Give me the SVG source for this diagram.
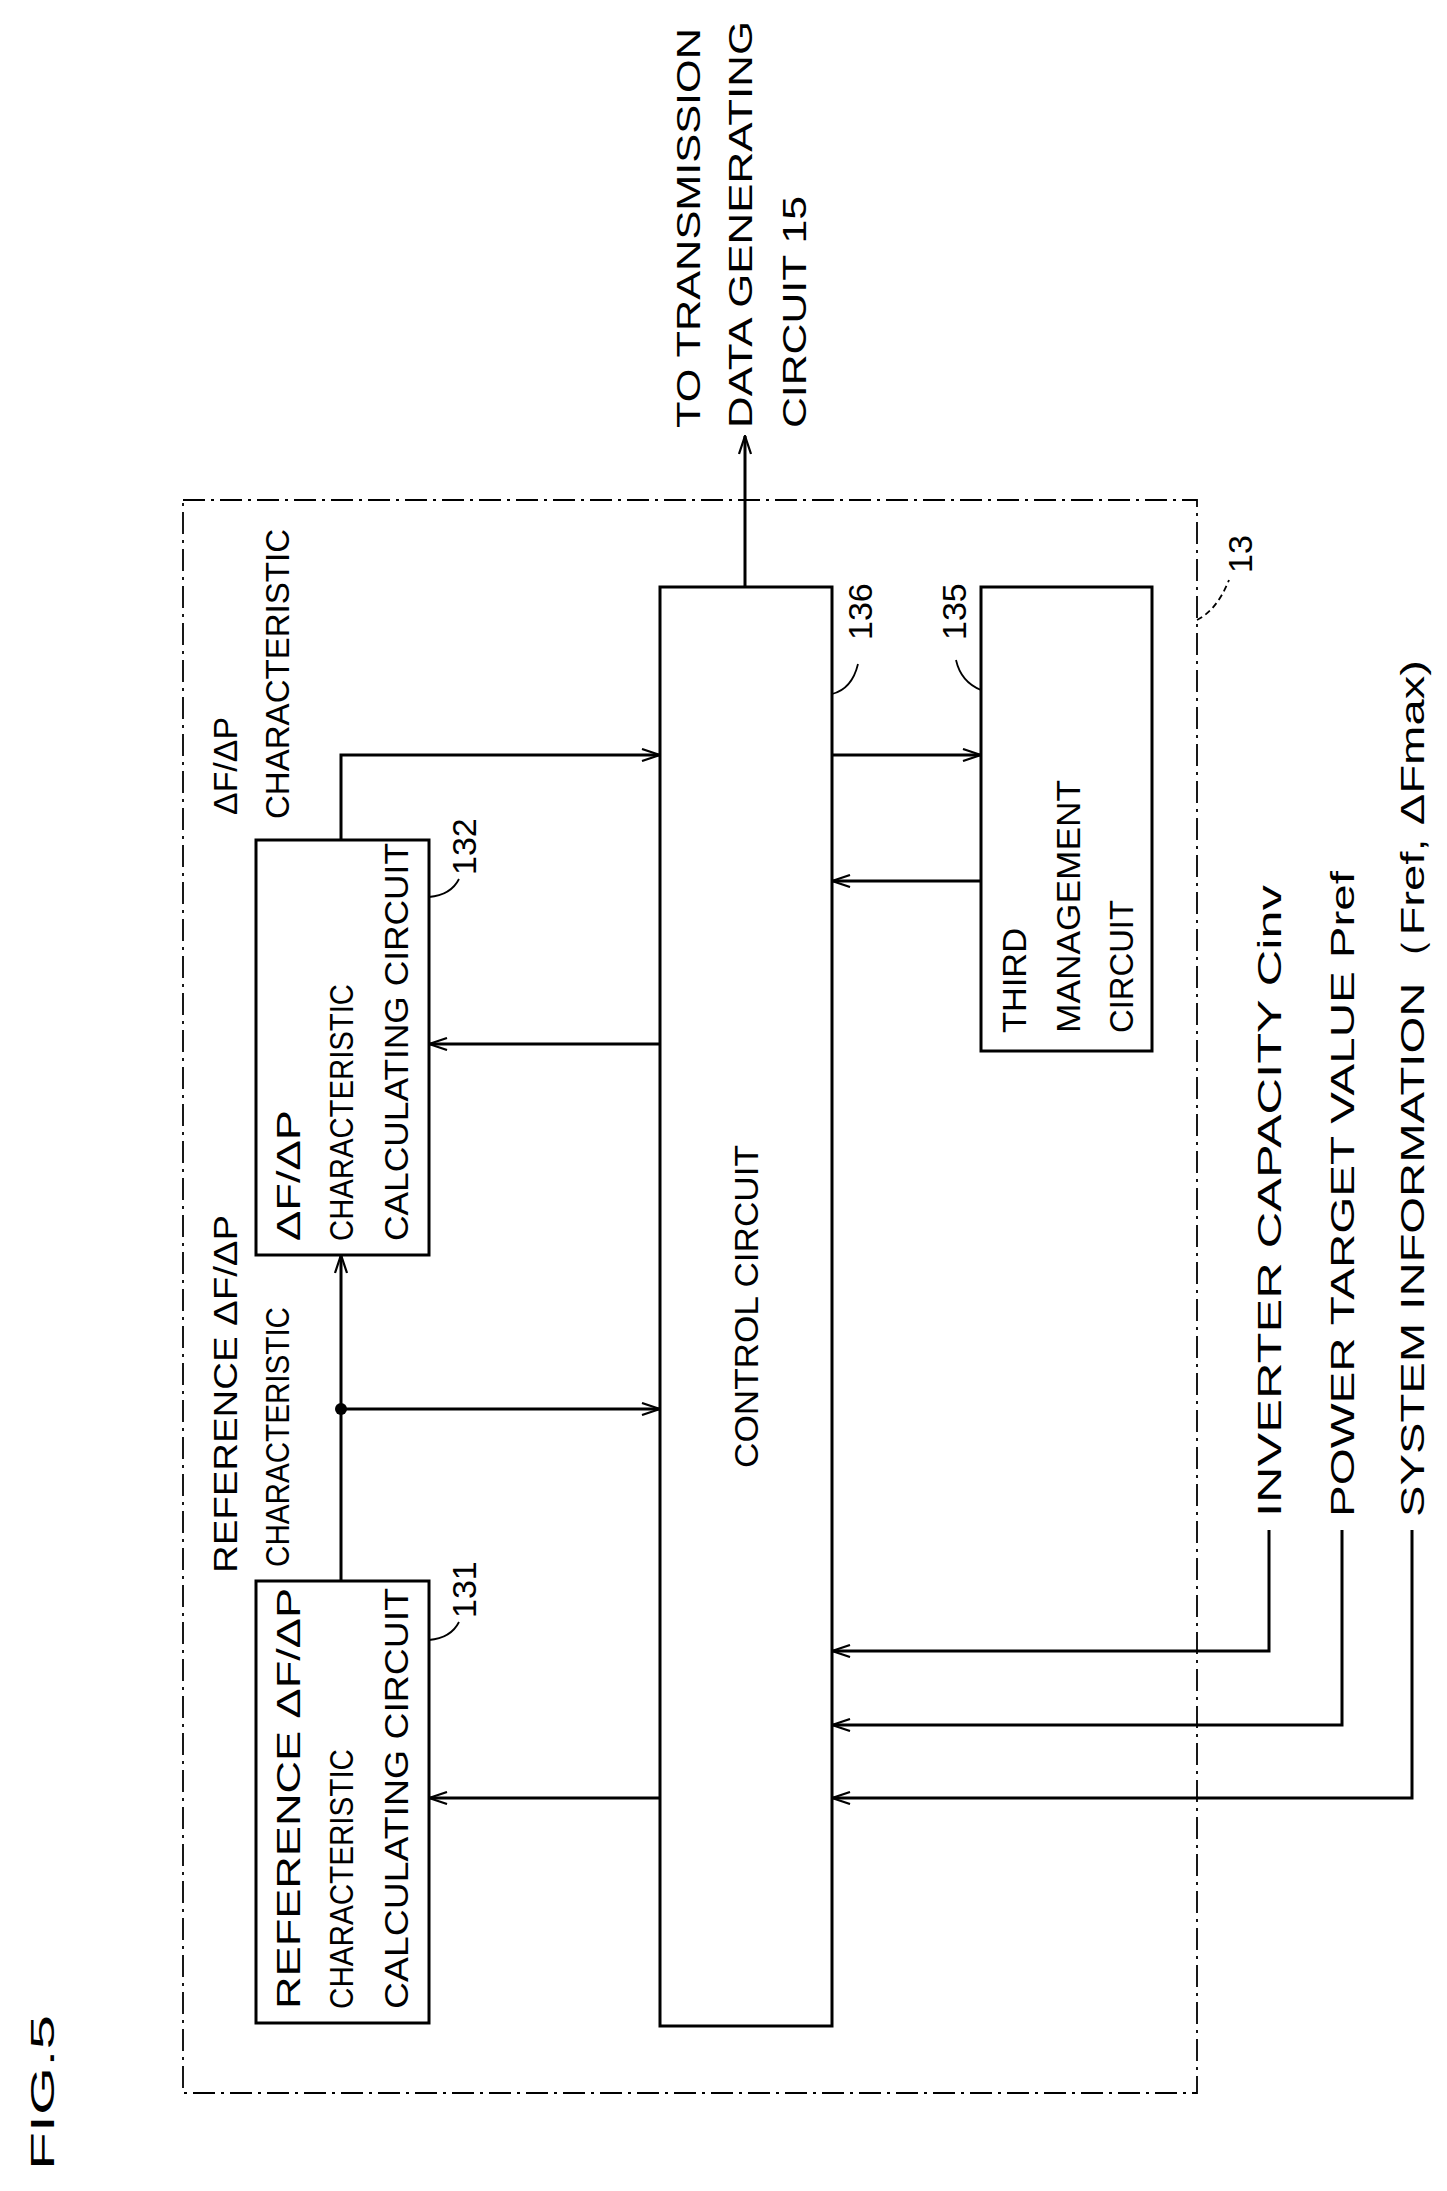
<svg xmlns="http://www.w3.org/2000/svg" width="1447" height="2191" viewBox="0 0 1447 2191">
<style>
text{font-family:"Liberation Sans",Arial,sans-serif;font-size:34px;fill:#000}
.b{fill:#fff;stroke:#000;stroke-width:3}
.l{fill:none;stroke:#000;stroke-width:3}
.ld{fill:none;stroke:#000;stroke-width:1.8}
</style>
<defs><marker id="a" markerWidth="20" markerHeight="14" refX="19" refY="7" orient="auto" markerUnits="userSpaceOnUse"><path d="M1,1 L19,7 L1,13" fill="none" stroke="#000" stroke-width="2.2"/></marker></defs>
<rect width="1447" height="2191" fill="#fff"/>
<text transform="translate(54,2170) rotate(-90)" font-size="44" textLength="155" lengthAdjust="spacingAndGlyphs">FIG.5</text>
<g id="n13"><rect x="183" y="500" width="1014" height="1593" fill="none" stroke="#000" stroke-width="1.8" stroke-dasharray="22,6,3,6"/>
<path d="M1197,620 q20,-10 32,-40" fill="none" stroke="#000" stroke-width="1.8" stroke-dasharray="6,4"/>
<text transform="translate(1252,573) rotate(-90)">13</text></g>
<g id="n131"><rect class="b" x="256" y="1581" width="173" height="442"/>
<text transform="translate(300,2009) rotate(-90)" textLength="421" lengthAdjust="spacingAndGlyphs">REFERENCE ΔF/ΔP</text>
<text transform="translate(353,2009) rotate(-90)" textLength="260" lengthAdjust="spacingAndGlyphs">CHARACTERISTIC</text>
<text transform="translate(408,2009) rotate(-90)" textLength="421" lengthAdjust="spacingAndGlyphs">CALCULATING CIRCUIT</text>
<path class="ld" d="M429,1640 q22,-2 30,-18"/>
<text transform="translate(476,1618) rotate(-90)">131</text></g>
<g id="n132"><rect class="b" x="256" y="840" width="173" height="415"/>
<text transform="translate(300,1241) rotate(-90)" textLength="131" lengthAdjust="spacingAndGlyphs">ΔF/ΔP</text>
<text transform="translate(353,1241) rotate(-90)" textLength="257" lengthAdjust="spacingAndGlyphs">CHARACTERISTIC</text>
<text transform="translate(408,1241) rotate(-90)" textLength="398" lengthAdjust="spacingAndGlyphs">CALCULATING CIRCUIT</text>
<path class="ld" d="M429,897 q22,-2 30,-18"/>
<text transform="translate(476,875) rotate(-90)">132</text></g>
<g id="n136"><rect class="b" x="660" y="587" width="172" height="1439"/>
<text transform="translate(758,1468) rotate(-90)" textLength="323" lengthAdjust="spacingAndGlyphs">CONTROL CIRCUIT</text>
<path class="ld" d="M832,694 q20,-5 26,-30"/>
<text transform="translate(872,640) rotate(-90)">136</text></g>
<g id="n135"><rect class="b" x="981" y="587" width="171" height="464"/>
<text transform="translate(1026,1033) rotate(-90)" textLength="105" lengthAdjust="spacingAndGlyphs">THIRD</text>
<text transform="translate(1080,1033) rotate(-90)" textLength="253" lengthAdjust="spacingAndGlyphs">MANAGEMENT</text>
<text transform="translate(1133,1033) rotate(-90)" textLength="133" lengthAdjust="spacingAndGlyphs">CIRCUIT</text>
<path class="ld" d="M981,690 q-20,-8 -25,-30"/>
<text transform="translate(966,640) rotate(-90)">135</text></g>
<g id="labels">
<text transform="translate(700,428) rotate(-90)" textLength="400" lengthAdjust="spacingAndGlyphs">TO TRANSMISSION</text>
<text transform="translate(752,428) rotate(-90)" textLength="407" lengthAdjust="spacingAndGlyphs">DATA GENERATING</text>
<text transform="translate(806,428) rotate(-90)" textLength="232" lengthAdjust="spacingAndGlyphs">CIRCUIT 15</text>
<text transform="translate(237,1573) rotate(-90)" textLength="358" lengthAdjust="spacingAndGlyphs">REFERENCE ΔF/ΔP</text>
<text transform="translate(289,1567) rotate(-90)" textLength="260" lengthAdjust="spacingAndGlyphs">CHARACTERISTIC</text>
<text transform="translate(237,815) rotate(-90)" textLength="98" lengthAdjust="spacingAndGlyphs">ΔF/ΔP</text>
<text transform="translate(289,819) rotate(-90)" textLength="290" lengthAdjust="spacingAndGlyphs">CHARACTERISTIC</text>
<text transform="translate(1281,1517) rotate(-90)" textLength="632" lengthAdjust="spacingAndGlyphs">INVERTER CAPACITY Cinv</text>
<text transform="translate(1354,1517) rotate(-90)" textLength="646" lengthAdjust="spacingAndGlyphs">POWER TARGET VALUE Pref</text>
<text transform="translate(1424,1517) rotate(-90)" textLength="857" lengthAdjust="spacingAndGlyphs">SYSTEM INFORMATION（Fref, ΔFmax)</text>
</g>
<g id="connectors">
<path class="l" d="M745,587 V436" marker-end="url(#a)"/>
<path class="l" d="M341,840 V755 H660" marker-end="url(#a)"/>
<path class="l" d="M341,1581 V1255" marker-end="url(#a)"/>
<circle cx="341" cy="1409" r="6" fill="#000"/>
<path class="l" d="M341,1409 H660" marker-end="url(#a)"/>
<path class="l" d="M660,1044 H429" marker-end="url(#a)"/>
<path class="l" d="M660,1798 H429" marker-end="url(#a)"/>
<path class="l" d="M832,755 H981" marker-end="url(#a)"/>
<path class="l" d="M981,881 H832" marker-end="url(#a)"/>
<path class="l" d="M1269,1530 V1651 H832" marker-end="url(#a)"/>
<path class="l" d="M1342,1530 V1725 H832" marker-end="url(#a)"/>
<path class="l" d="M1412,1530 V1798 H832" marker-end="url(#a)"/>
</g>
</svg>
